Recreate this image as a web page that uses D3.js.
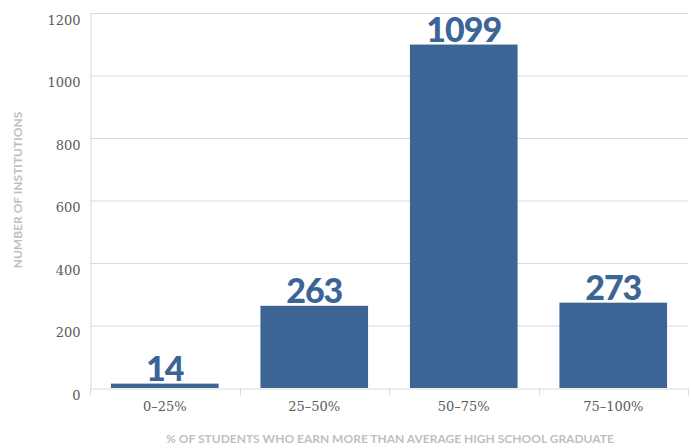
<!DOCTYPE html>
<html lang="en">
<head>
<meta charset="UTF-8">
<title>Institutions by share of students out-earning HS graduates</title>
<script src="https://cdn.jsdelivr.net/npm/d3@7/dist/d3.min.js"></script>
<style>
    body { margin: 0; background: #fff; }
    .tick text { font-family: "DejaVu Serif", serif; fill: #595959; }
</style>
</head>
<body>
<script>
    // data
    const categories = ["0–25%", "25–50%", "50–75%", "75–100%"];
    const institutions = [14, 263, 1099, 273];
    const yTicks = [0, 200, 400, 600, 800, 1000, 1200];

    const width = 691, height = 448;
    const margin = {top: 13, right: 3, bottom: 60, left: 90};
    const barColor = "#3c6595";
    const gridColor = "#d9d9d9";

    const svg = d3.select("body").append("svg")
        .attr("width", width)
        .attr("height", height);

    const x = d3.scaleBand()
        .domain(categories)
        .range([margin.left, width - margin.right])
        .paddingInner(0.28)
        .paddingOuter(0.14);

    const y = d3.scaleLinear()
        .domain([0, 1200])
        .range([height - margin.bottom, margin.top]);

    // gridlines
    svg.append("g")
        .selectAll("line")
        .data(yTicks.slice(1))
        .join("line")
        .attr("x1", margin.left)
        .attr("x2", width - margin.right)
        .attr("y1", d => y(d) + 0.5)
        .attr("y2", d => y(d) + 0.5)
        .attr("stroke", gridColor);

    // y axis
    const yAxis = svg.append("g")
        .attr("transform", `translate(${margin.left + 0.5},0)`)
        .call(d3.axisLeft(y).tickValues(yTicks).tickFormat(d3.format("d")).tickSize(0).tickPadding(10));
    yAxis.select(".domain").attr("stroke", gridColor);
    yAxis.selectAll(".tick text").attr("font-size", 13).attr("dy", "0.85em");

    // bars
    svg.append("g")
        .selectAll("rect")
        .data(institutions)
        .join("rect")
        .attr("x", (d, i) => x(categories[i]))
        .attr("y", d => y(d))
        .attr("width", x.bandwidth())
        .attr("height", d => y(0) - y(d))
        .attr("fill", barColor);

    // value labels
    svg.append("g")
        .selectAll("text")
        .data(institutions)
        .join("text")
        .attr("x", (d, i) => x(categories[i]) + x.bandwidth() / 2)
        .attr("y", d => y(d) - 3)
        .attr("text-anchor", "middle")
        .attr("font-family", "Lato, sans-serif")
        .attr("font-weight", 900)
        .attr("font-size", 34)
        .attr("letter-spacing", -1)
        .attr("fill", barColor)
        .text(d => d);

    // x axis with ticks at band edges
    const xAxis = svg.append("g")
        .attr("transform", `translate(0,${y(0) + 0.5})`)
        .call(d3.axisBottom(x).tickSize(0).tickPadding(13));
    xAxis.select(".domain").attr("stroke", gridColor);
    xAxis.selectAll(".tick text").attr("font-size", 13);

    const step = x.step();
    const edges = d3.range(categories.length + 1).map(i => x(categories[0]) - x.paddingOuter() * step + i * step);
    xAxis.append("g")
        .selectAll("line")
        .data(edges)
        .join("line")
        .attr("x1", d => Math.round(d) + 0.5)
        .attr("x2", d => Math.round(d) + 0.5)
        .attr("y1", 0)
        .attr("y2", 7)
        .attr("stroke", gridColor);

    // axis titles
    svg.append("text")
        .attr("transform", `translate(22,190) rotate(-90)`)
        .attr("text-anchor", "middle")
        .attr("font-family", "Lato, sans-serif")
        .attr("font-weight", 700)
        .attr("font-size", 12)
        .attr("fill", "#bfbfbf")
        .text("NUMBER OF INSTITUTIONS");

    svg.append("text")
        .attr("x", 390)
        .attr("y", 443)
        .attr("text-anchor", "middle")
        .attr("font-family", "Lato, sans-serif")
        .attr("font-weight", 700)
        .attr("font-size", 12)
        .attr("fill", "#bfbfbf")
        .text("% OF STUDENTS WHO EARN MORE THAN AVERAGE HIGH SCHOOL GRADUATE");
</script>
</body>
</html>
